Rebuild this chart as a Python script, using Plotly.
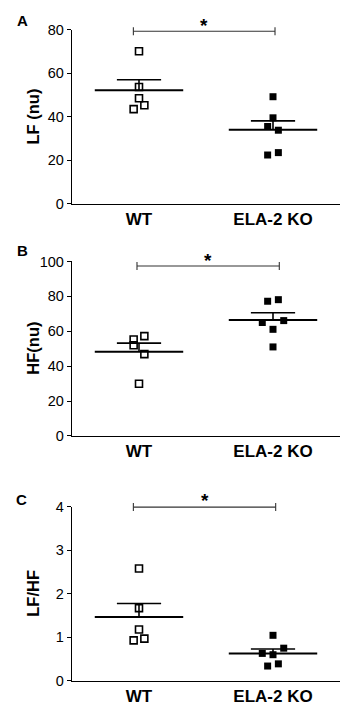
import numpy as np
import plotly.graph_objects as go

# ---------------- data ----------------
groups = ["WT", "ELA-2 KO"]
panel_letters = ["A", "B", "C"]
y_titles = ["LF (nu)", "HF(nu)", "LF/HF"]

lf_wt = [70.0, 53.6, 48.4, 45.2, 43.4]
lf_ko = [49.1, 39.4, 35.4, 33.7, 22.3, 23.4]
hf_wt = [57.2, 55.3, 52.0, 46.9, 29.9]
hf_ko = [77.2, 78.1, 65.0, 66.1, 61.1, 51.0]
ratio_wt = [2.58, 1.67, 1.18, 0.93, 0.97]
ratio_ko = [1.045, 0.75, 0.63, 0.60, 0.39, 0.34]

lf_ticks = [0, 20, 40, 60, 80]
hf_ticks = [0, 20, 40, 60, 80, 100]
ratio_ticks = [0, 1, 2, 3, 4]

# horizontal scatter of overlapping points (style)
lf_wt_jit = [0, 0, 0, 0.04, -0.04]
lf_ko_jit = [0, 0, -0.04, 0.04, -0.04, 0.04]
hf_wt_jit = [0.04, -0.04, -0.04, 0.04, 0]
hf_ko_jit = [-0.04, 0.04, -0.08, 0.08, 0, 0]
ratio_wt_jit = [0, 0, 0, -0.04, 0.04]
ratio_ko_jit = [0, 0.08, -0.08, 0, 0.04, -0.04]

panels = [
    (lf_wt, lf_ko, lf_wt_jit, lf_ko_jit, lf_ticks),
    (hf_wt, hf_ko, hf_wt_jit, hf_ko_jit, hf_ticks),
    (ratio_wt, ratio_ko, ratio_wt_jit, ratio_ko_jit, ratio_ticks),
]

# ---------------- layout geometry (pixels) ----------------
W, H = 346, 713
x_left, x_right = 72, 340
panel_px = [(22, 200), (259.3, 437.7), (510, 688.3)]
bracket = [(-0.042, 1.015, 0.99, 4), (-0.015, 1.047, 0.974, 1), (-0.042, 1.02, 0.997, 6)]
letter_pos = [(23, 13), (22, 248), (21, 503)]

FONT = "Liberation Sans, Arial, Helvetica, sans-serif"
fig = go.Figure()
layout = dict(
    width=W, height=H, margin=dict(l=0, r=0, t=0, b=0),
    paper_bgcolor="white", plot_bgcolor="white", showlegend=False,
    font=dict(family=FONT, color="black"),
)
shapes, annotations = [], []

for i, (wt, ko, jw, jk, ticks) in enumerate(panels):
    n = "" if i == 0 else str(i + 1)
    xa, ya = "x" + n, "y" + n
    top, bot = panel_px[i]
    layout["xaxis" + n] = dict(
        domain=[x_left / W, x_right / W], anchor=ya, range=[-0.5, 1.5],
        tickvals=[0, 1], ticktext=groups, ticks="", showline=True,
        linecolor="black", linewidth=1.3, showgrid=False, zeroline=False,
        tickfont=dict(family=FONT, size=17, color="black", weight="bold"),
    )
    layout["yaxis" + n] = dict(
        domain=[1 - bot / H, 1 - top / H], anchor=xa,
        range=[ticks[0], ticks[-1]], tickvals=ticks, ticks="outside",
        ticklen=4, tickwidth=1.3, tickcolor="black", showline=True,
        linecolor="black", linewidth=1.3, showgrid=False, zeroline=False,
        tickfont=dict(family=FONT, size=14.5, color="black"),
    )
    for g, (vals, jit) in enumerate([(wt, jw), (ko, jk)]):
        vals = np.array(vals)
        mean = vals.mean()
        sem = vals.std(ddof=1) / np.sqrt(len(vals))
        fig.add_trace(go.Scatter(
            x=[g - 0.33, g + 0.33], y=[mean, mean], mode="lines",
            line=dict(color="black", width=2), xaxis=xa, yaxis=ya, hoverinfo="skip"))
        fig.add_trace(go.Scatter(
            x=[g - 0.165, g + 0.165, None, g, g], y=[mean + sem, mean + sem, None, mean, mean + sem],
            mode="lines", line=dict(color="black", width=1.6), xaxis=xa, yaxis=ya, hoverinfo="skip"))
        fig.add_trace(go.Scatter(
            x=[g + j for j in jit], y=vals, mode="markers", cliponaxis=False,
            marker=dict(symbol="square-open" if g == 0 else "square",
                        size=7, color="black",
                        line=dict(color="black", width=1.6 if g == 0 else 0)),
            xaxis=xa, yaxis=ya))
    # significance bracket
    bx0, bx1, by, star_up = bracket[i]
    shapes.append(dict(type="line", xref=xa, yref=ya + " domain", x0=bx0, x1=bx1, y0=by, y1=by,
                       line=dict(color="#333333", width=1.1)))
    for bxx in (bx0, bx1):
        shapes.append(dict(type="line", xref=xa, yref=ya + " domain", ysizemode="pixel", yanchor=by,
                           x0=bxx, x1=bxx, y0=-4, y1=4, line=dict(color="#333333", width=1.1)))
    annotations.append(dict(text="<b>*</b>", xref=xa, yref=ya + " domain", x=(bx0 + bx1) / 2, y=1,
                            yshift=star_up, yanchor="middle", xanchor="center", showarrow=False,
                            font=dict(size=19, color="black")))
    # y title
    annotations.append(dict(text="<b>" + y_titles[i] + "</b>", xref="paper", yref="paper",
                            x=33 / W, y=1 - (top + bot) / 2 / H, textangle=-90, showarrow=False,
                            xanchor="center", yanchor="middle", font=dict(size=16.5, color="black")))
    # panel letter
    lx, ly = letter_pos[i]
    annotations.append(dict(text="<b>" + panel_letters[i] + "</b>", xref="paper", yref="paper",
                            x=lx / W, y=1 - ly / H, showarrow=False, xanchor="center",
                            yanchor="middle", font=dict(size=15, color="black")))

layout["shapes"] = shapes
layout["annotations"] = annotations
fig.update_layout(**layout)
fig.write_html("out.html", config={"displayModeBar": False},
               post_script="document.body.style.margin='0';")
